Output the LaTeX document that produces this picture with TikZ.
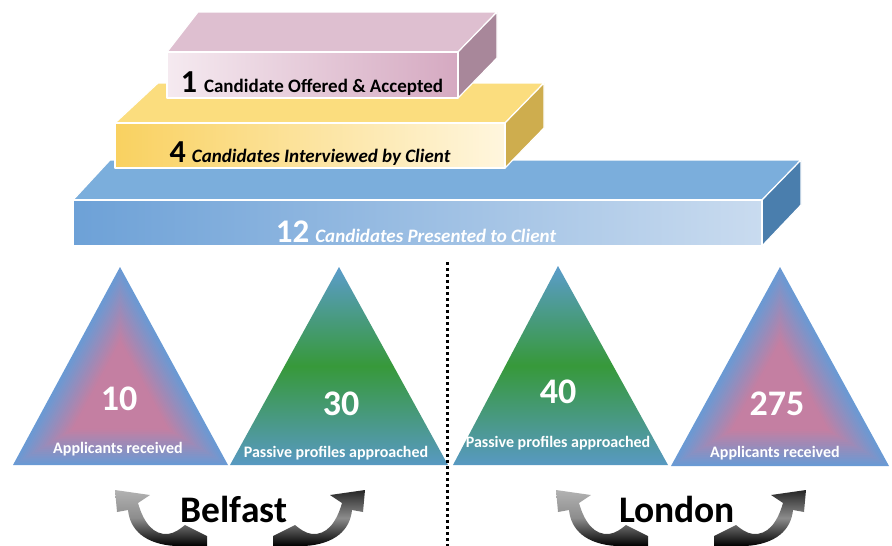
\documentclass[tikz,border=0pt]{standalone}
\usepackage{fontspec}
\setmainfont{Carlito}
\usetikzlibrary{calc}
\definecolor{pktop}{HTML}{DEBFD0}
\definecolor{pkfl}{HTML}{F5EAF0}
\definecolor{pkfr}{HTML}{D5A9C1}
\definecolor{pkside}{HTML}{A8879A}
\definecolor{yltop}{HTML}{FBDD7E}
\definecolor{ylfl}{HTML}{F9D160}
\definecolor{ylfr}{HTML}{FFF6DE}
\definecolor{ylside}{HTML}{CEAD4E}
\definecolor{bltop}{HTML}{7BAEDC}
\definecolor{blfl}{HTML}{6DA1D7}
\definecolor{blfr}{HTML}{C9DBEF}
\definecolor{blside}{HTML}{4A7EAD}
\definecolor{triblue}{HTML}{6A9AD4}
\definecolor{tripink}{HTML}{C47FA2}
\definecolor{gtop}{HTML}{5B9CCB}
\definecolor{gmid}{HTML}{37993A}
\definecolor{gbot}{HTML}{5899C2}
\begin{document}
\begin{tikzpicture}[x=1pt,y=-1pt,
  face/.style={draw=white,line width=1.2pt,line join=round},
  bignum/.style={font=\fontsize{36}{36}\selectfont\bfseries,text=white,inner sep=0pt,anchor=base},
  trilabel/.style={font=\fontsize{16}{16}\selectfont\bfseries,text=white,inner sep=0pt,anchor=base},
  boxtext/.style={inner sep=0pt,anchor=base},
  city/.style={font=\fontsize{37.5}{38}\selectfont\bfseries,inner sep=0pt,anchor=base},
  larrow/.style={top color=black!30,bottom color=black,middle color=black!45},
  rarrow/.style={top color=black!85,bottom color=black,middle color=black!45},
  divider/.style={line width=3pt,dash pattern=on 3pt off 3pt}]
\useasboundingbox (0,0) rectangle (892,546);

% ---- blue box
\fill[bltop,face] (73,200) -- (110,160) -- (801,160) -- (762,200) -- cycle;
\fill[blside,face] (762,200) -- (801,160) -- (801,205) -- (762,246) -- cycle;
\shade[left color=blfl,right color=blfr] (73,200) rectangle (762,246);
\draw[face] (73,200) rectangle (762,246);
\node[boxtext,text=white] (b12) at (416,242)
  {{\fontsize{33}{33}\selectfont\bfseries 12}\hspace{6pt}{\fontsize{19}{19}\selectfont\bfseries\itshape Candidates Presented to Client}};

% ---- yellow box
\fill[yltop,face] (115,123) -- (158,83) -- (544,83) -- (505,123) -- cycle;
\fill[ylside,face] (505,123) -- (544,83) -- (544,128) -- (505,168) -- cycle;
\shade[left color=ylfl,right color=ylfr] (115,123) rectangle (505,168);
\draw[face] (115,123) rectangle (505,168);
\node[boxtext] (b4) at (310,162)
  {{\fontsize{32}{32}\selectfont\bfseries 4}\hspace{6pt}{\fontsize{19}{19}\selectfont\bfseries\itshape Candidates Interviewed by Client}};

% ---- pink box
\fill[pktop,face] (167,52) -- (198,12) -- (497,12) -- (458,52) -- cycle;
\fill[pkside,face] (458,52) -- (497,12) -- (497,58) -- (458,98) -- cycle;
\shade[left color=pkfl,right color=pkfr] (167,52) rectangle (458,98);
\draw[face] (167,52) rectangle (458,98);
\node[boxtext] (b1) at (312,92)
  {{\fontsize{32}{32}\selectfont\bfseries 1}\hspace{7pt}{\fontsize{19}{19}\selectfont\bfseries Candidate Offered \& Accepted}};

% ---- triangles
\coordinate (t1a) at (120,267); \coordinate (t1l) at (13,465); \coordinate (t1r) at (228,465); \coordinate (t1c) at (120.5,401);
\coordinate (t4a) at (780,267); \coordinate (t4l) at (671,466); \coordinate (t4r) at (889,466); \coordinate (t4c) at (780,402);
\foreach \t in {t1,t4}{
  \foreach \i in {0,...,34}{
    \pgfmathsetmacro\pf{min(100,\i*5.2)}
    \pgfmathsetmacro\sc{1-\i/35}
    \fill[tripink!\pf!triblue] ($(\t c)!\sc!(\t a)$) -- ($(\t c)!\sc!(\t l)$) -- ($(\t c)!\sc!(\t r)$) -- cycle;
  }
}
\coordinate (t2a) at (339,267); \coordinate (t2l) at (230,465); \coordinate (t2r) at (448,465);
\coordinate (t3a) at (558,266); \coordinate (t3l) at (453,465); \coordinate (t3r) at (668,465);
\shade[top color=gtop,bottom color=gbot,middle color=gmid] (t2a) -- (t2l) -- (t2r) -- cycle;
\shade[top color=gtop,bottom color=gbot,middle color=gmid] (t3a) -- (t3l) -- (t3r) -- cycle;

\node[bignum] (n10) at (119,410) {10};
\node[trilabel] (l10) at (118,453) {Applicants received};
\node[bignum] (n30) at (341,415) {30};
\node[trilabel] (l30) at (336,457) {Passive profiles approached};
\node[bignum] (n40) at (558,403) {40};
\node[trilabel] (l40) at (558,447) {Passive profiles approached};
\node[bignum] (n275) at (777,415) {275};
\node[trilabel] (l275) at (775,457) {Applicants received};

% ---- divider
\coordinate (dtop) at (447,262);
\coordinate (dbot) at (447,546);
\draw[divider] (dtop) -- (dbot);

% ---- cities
\node[city] (belfast) at (234,522) {Belfast};
\node[city] (london) at (677,522) {London};
\foreach \cx/\sx/\st in {240/1/larrow,240/-1/rarrow,681/1/larrow,681/-1/rarrow}{
  \begin{scope}[shift={(\cx,0)},xscale=\sx]
    \shade[\st] (-125,490) -- (-90,495) -- (-102,503)
      .. controls (-96,524) and (-86,535) .. (-72,534)
      .. controls (-65,533) and (-60,529) .. (-55,525)
      -- (-33,536) -- (-33,546) -- (-65,546)
      .. controls (-95,544) and (-110,530) .. (-112,510)
      -- (-123,512) -- cycle;
  \end{scope}
}
\end{tikzpicture}
\end{document}
